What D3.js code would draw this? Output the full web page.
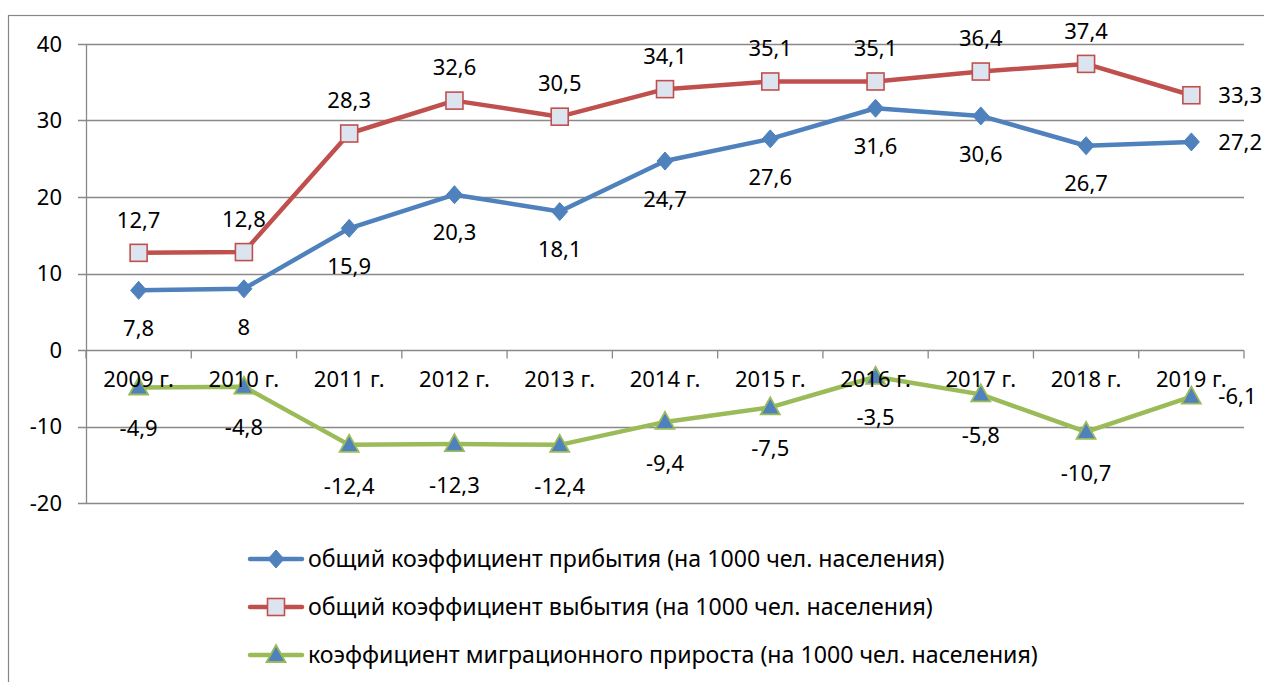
<!DOCTYPE html>
<html>
<head>
<meta charset="utf-8">
<script src="https://cdn.jsdelivr.net/npm/d3@7"></script>
<style>
  body { margin: 0; background: #fff; }
  svg text { font-family: "Noto Sans", "Open Sans", sans-serif; fill: #000; }
</style>
</head>
<body>
<div class="chart"></div>
<script>
/*data*/
var years = ["2009 г.", "2010 г.", "2011 г.", "2012 г.", "2013 г.", "2014 г.", "2015 г.", "2016 г.", "2017 г.", "2018 г.", "2019 г."];
var arrival = [7.8, 8, 15.9, 20.3, 18.1, 24.7, 27.6, 31.6, 30.6, 26.7, 27.2];
var departure = [12.7, 12.8, 28.3, 32.6, 30.5, 34.1, 35.1, 35.1, 36.4, 37.4, 33.3];
var migration = [-4.9, -4.8, -12.4, -12.3, -12.4, -9.4, -7.5, -3.5, -5.8, -10.7, -6.1];
var yTicks = [-20, -10, 0, 10, 20, 30, 40];
var seriesNames = [
  "общий коэффициент прибытия (на 1000 чел. населения)",
  "общий коэффициент выбытия (на 1000 чел. населения)",
  "коэффициент миграционного прироста (на 1000 чел. населения)"
];

/*dimensions*/
var width = 1264, height = 682;
var plot = {left: 86, right: 1244, top: 44, bottom: 503};
var fontSize = 22;

var series = [
  {name: seriesNames[0], values: arrival, color: "#4f81bd", marker: "diamond", labelDy: 38},
  {name: seriesNames[1], values: departure, color: "#c0504d", marker: "square", labelDy: -33},
  {name: seriesNames[2], values: migration, color: "#9bbb59", marker: "triangle", labelDy: 41}
];

/*Scales*/
var xScale = d3.scaleBand()
  .domain(years)
  .range([plot.left, plot.right])
  .padding(0);
var bw = xScale.bandwidth();
function cx(i){ return xScale(years[i]) + bw / 2; }

var yScale = d3.scaleLinear()
  .domain([-20, 40])
  .range([plot.bottom, plot.top]);

var canvas = d3.select(".chart").append("svg")
  .attr("width", width)
  .attr("height", height);

// outer chart border
canvas.append("rect")
  .attr("x", 8.5).attr("y", 15.5)
  .attr("width", width).attr("height", height)
  .attr("fill", "none")
  .attr("stroke", "#868686")
  .attr("stroke-width", 1.2);

// gridlines
canvas.append("g").selectAll("line")
  .data(yTicks)
  .enter().append("line")
  .attr("x1", plot.left - 8).attr("x2", plot.right)
  .attr("y1", function(d){ return Math.round(yScale(d)) + 0.5; })
  .attr("y2", function(d){ return Math.round(yScale(d)) + 0.5; })
  .attr("stroke", "#898989")
  .attr("stroke-width", 1.3);

// y axis
var yAxis = d3.axisLeft(yScale)
  .tickValues(yTicks)
  .tickFormat(function(d){ return String(d); })
  .tickSize(0)
  .tickPadding(24);
var gy = canvas.append("g")
  .attr("class", "y-axis")
  .attr("transform", "translate(" + plot.left + ",0)")
  .call(yAxis);
gy.select(".domain").remove();
gy.selectAll("text").style("font-size", fontSize + "px").style("font-family", null);

canvas.append("line")
  .attr("x1", plot.left + 0.5).attr("x2", plot.left + 0.5)
  .attr("y1", plot.top).attr("y2", plot.bottom)
  .attr("stroke", "#898989")
  .attr("stroke-width", 1.3);

// category tick marks (between categories) on the zero line
var y0 = Math.round(yScale(0)) + 0.5;
canvas.append("g").selectAll("line")
  .data(d3.range(years.length + 1))
  .enter().append("line")
  .attr("x1", function(i){ return plot.left + i * bw; })
  .attr("x2", function(i){ return plot.left + i * bw; })
  .attr("y1", y0).attr("y2", y0 + 8)
  .attr("stroke", "#898989")
  .attr("stroke-width", 1.3);

// series lines
var line = d3.line()
  .x(function(d, i){ return cx(i); })
  .y(function(d){ return yScale(d); });

series.forEach(function(s){
  canvas.append("path")
    .datum(s.values)
    .attr("d", line)
    .attr("fill", "none")
    .attr("stroke", s.color)
    .attr("stroke-width", 4.5)
    .attr("stroke-linejoin", "round");
});

//markers
function drawMarker(g, type, x, y){
  if (type == "diamond"){
    g.append("path")
      .attr("d", "M" + x + "," + (y - 9) + " L" + (x + 8) + "," + y + " L" + x + "," + (y + 9) + " L" + (x - 8) + "," + y + "Z")
      .attr("fill", "#4f81bd")
      .attr("stroke", "#4f81bd")
      .attr("stroke-width", 1);
  } else if (type == "square"){
    g.append("rect")
      .attr("x", x - 8.5).attr("y", y - 8.5)
      .attr("width", 17).attr("height", 17)
      .attr("fill", "#dce4f0")
      .attr("stroke", "#c0504d")
      .attr("stroke-width", 1.6);
  } else {
    g.append("path")
      .attr("d", "M" + x + "," + (y - 10) + " L" + (x + 9.5) + "," + (y + 7) + " L" + (x - 9.5) + "," + (y + 7) + "Z")
      .attr("fill", "#4f81bd")
      .attr("stroke", "#9bbb59")
      .attr("stroke-width", 1.8);
  }
}

series.forEach(function(s){
  var g = canvas.append("g");
  s.values.forEach(function(v, i){
    drawMarker(g, s.marker, cx(i), yScale(v));
  });
});

// category labels (drawn above the green series like in the original)
var xAxis = d3.axisBottom(xScale).tickSize(0).tickPadding(0);
var gx = canvas.append("g")
  .attr("class", "x-axis")
  .attr("transform", "translate(0," + (yScale(0) + 21) + ")")
  .call(xAxis);
gx.select(".domain").remove();
gx.selectAll("text").style("font-size", fontSize + "px").style("font-family", null);

// data labels
series.forEach(function(s){
  var n = s.values.length;
  canvas.append("g").selectAll("text")
    .data(s.values)
    .enter().append("text")
    .attr("x", function(d, i){ return i == n - 1 ? cx(i) + 27 : cx(i); })
    .attr("y", function(d, i){ return i == n - 1 ? yScale(d) : yScale(d) + s.labelDy; })
    .attr("dy", "0.35em")
    .attr("text-anchor", function(d, i){ return i == n - 1 ? "start" : "middle"; })
    .style("font-size", fontSize + "px")
    .text(function(d){ return String(d).replace(".", ","); });
});

// legend
var legend = canvas.append("g");
var legendY = [559, 607, 655];
var probe = legend.append("text").style("font-size", "20px").text(seriesNames[0]);
var legendSize = 20 * 637 / probe.node().getComputedTextLength();
probe.remove();

series.forEach(function(s, i){
  var ly = legendY[i];
  legend.append("line")
    .attr("x1", 250).attr("x2", 302)
    .attr("y1", ly).attr("y2", ly)
    .attr("stroke", s.color)
    .attr("stroke-width", 4.5)
    .attr("stroke-linecap", "round");
  drawMarker(legend, s.marker, 276, ly);
  legend.append("text")
    .attr("x", 308)
    .attr("y", ly)
    .attr("dy", "0.35em")
    .style("font-size", legendSize + "px")
    .text(s.name);
});
</script>
</body>
</html>
